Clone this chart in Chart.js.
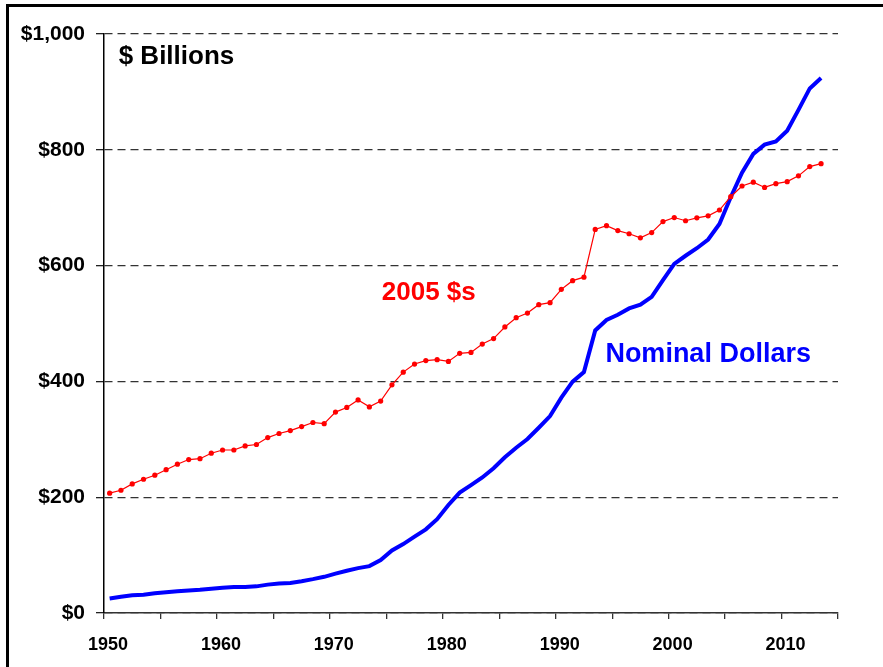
<!DOCTYPE html>
<html>
<head>
<meta charset="utf-8">
<title>$ Billions</title>
<script src="https://cdn.jsdelivr.net/npm/chart.js@4/dist/chart.umd.min.js"></script>
<style>
  html, body { margin: 0; padding: 0; background: #fff; overflow: hidden; }
  #wrap { position: relative; width: 883px; height: 667px; }
  #frame { position: absolute; left: 6px; top: 4px; width: 1000px; height: 1000px;
           border-left: 3px solid #000; border-top: 3px solid #000; pointer-events: none; }
  canvas { position: absolute; left: 0; top: 0; }
</style>
</head>
<body>
<div id="wrap">
  <canvas id="chart" width="883" height="667"></canvas>
  <div id="frame"></div>
</div>
<script>
// Data (billions of dollars, by year)
const years = [];
for (let y = 1950; y <= 2013; y++) years.push(y);

const nominal = [
  25, 28, 30.5, 31.5, 34, 36, 37.5, 39, 40, 42,
  43.5, 45, 45, 46, 49, 51, 52, 55, 58.5, 62.5,
  68, 73, 77.5, 81, 91.5, 108, 119, 132, 144.5, 162,
  186.5, 208, 221, 234, 250, 269, 285.5, 300.5, 320, 340,
  372, 399.5, 416, 488, 506, 515, 526, 532.5, 546, 575,
  603, 617, 630, 645, 672, 718, 760.5, 793, 809, 814.5,
  833, 869, 906, 924
];

const real2005 = [
  207, 212, 223, 231, 238, 247.5, 257, 265, 266.5, 276,
  281.5, 281.5, 288.5, 291, 303, 310, 315, 322, 329, 327,
  347, 355, 368, 356, 366, 394, 416, 430, 436, 437.5,
  434.5, 448.5, 450, 464.5, 474, 494, 510, 518, 532.5, 536,
  559, 574, 580, 662.5, 669, 660.5, 655, 648, 657, 676,
  683, 677.5, 682.5, 686, 696, 719, 737.5, 744, 735, 741.5,
  745, 755, 771, 776
];

const xTicks = [1950, 1960, 1970, 1980, 1990, 2000, 2010];
const yTicks = [0, 200, 400, 600, 800, 1000];

// series labels placed on the chart: [text, year, value, colour, size]
const notes = [
  ['$ Billions', 1951.3, 961, '#000000', 26],
  ['2005 $s', 1974.6, 553, '#FF0000', 26],
  ['Nominal Dollars', 1994.4, 446, '#0000FF', 27]
];

const FONT = '"Liberation Sans", Arial, Helvetica, sans-serif';

// points sit in the middle of each year
const pts = (vals) => vals.map((v, i) => ({ x: years[i] + 0.5, y: v }));

const notesPlugin = {
  id: 'notes',
  afterDatasetsDraw(chart) {
    const { ctx, scales: { x, y } } = chart;
    ctx.save();
    ctx.textAlign = 'left';
    ctx.textBaseline = 'middle';
    for (const [text, xv, yv, color, size] of notes) {
      ctx.font = `bold ${size}px ${FONT}`;
      ctx.fillStyle = color;
      ctx.fillText(text, x.getPixelForValue(xv), y.getPixelForValue(yv));
    }
    ctx.restore();
  }
};

new Chart(document.getElementById('chart'), {
  type: 'line',
  data: {
    datasets: [
      {
        label: 'Nominal Dollars',
        data: pts(nominal),
        borderColor: '#0000FF',
        borderWidth: 4,
        pointRadius: 0,
        tension: 0,
        order: 2
      },
      {
        label: '2005 $s',
        data: pts(real2005),
        borderColor: '#FF0000',
        backgroundColor: '#FF0000',
        borderWidth: 1.2,
        pointRadius: 2.6,
        pointBorderWidth: 0,
        tension: 0,
        order: 1
      }
    ]
  },
  options: {
    responsive: false,
    animation: false,
    events: [],
    layout: { padding: { top: 34, right: 45, left: 0, bottom: 0 } },
    plugins: { legend: { display: false }, tooltip: { enabled: false } },
    scales: {
      x: {
        type: 'linear',
        min: 1950,
        max: 2015,
        afterFit(s) { s.height = 54; },
        ticks: {
          stepSize: 5,
          autoSkip: false,
          maxRotation: 0,
          padding: 15,
          labelOffset: 4,
          color: '#000',
          font: { family: FONT, size: 18, weight: 'bold' },
          callback: (v) => (xTicks.includes(v) ? String(v) : '')
        },
        grid: { drawOnChartArea: false, drawTicks: true, tickLength: 6, color: '#333', lineWidth: 1.3 },
        border: { color: '#333', width: 1.5 }
      },
      y: {
        min: 0,
        max: 1000,
        afterFit(s) { s.width = 104; },
        afterBuildTicks(s) { s.ticks = yTicks.map((v) => ({ value: v })); },
        ticks: {
          padding: 11,
          color: '#000',
          font: { family: FONT, size: 21, weight: 'bold' },
          callback: (v) => '$' + v.toLocaleString('en-US')
        },
        grid: { color: '#333', lineWidth: 1.3, tickLength: 8, tickColor: '#222' },
        border: { color: '#000', width: 1.5, dash: [8, 5] }
      }
    }
  },
  plugins: [notesPlugin]
});
</script>
</body>
</html>
